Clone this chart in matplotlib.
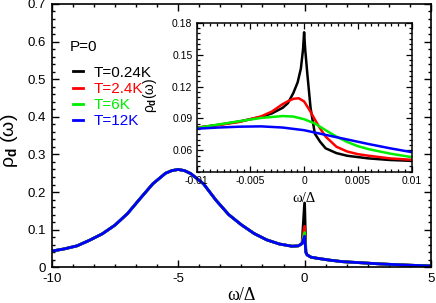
import matplotlib
matplotlib.use("Agg")
import matplotlib.pyplot as plt
from matplotlib.ticker import MultipleLocator, FixedLocator, FixedFormatter
from matplotlib.lines import Line2D

# ---- data ----
temps = ["T=0.24K", "T=2.4K", "T=6K", "T=12K"]
colors = ["#000000", "#ff0000", "#00ee00", "#0000ff"]

# main panel: common curve, the four temperatures only differ in the spike at w=0
main_w = [-10, -9.5, -9, -8.5, -8, -7.5, -7, -6.5, -6, -5.5, -5.25, -5, -4.75,
          -4.5, -4, -3.5, -3, -2.5, -2, -1.5, -1, -0.5, -0.25, -0.1, 0,
          0.05, 0.1, 0.25, 0.5, 1, 1.5, 2, 3, 4, 5]
main_rho = [0.043, 0.049, 0.057, 0.072, 0.089, 0.112, 0.143, 0.183, 0.222, 0.250,
            0.257, 0.260, 0.257, 0.249, 0.222, 0.178, 0.140, 0.113, 0.090, 0.073,
            0.062, 0.056, 0.057, 0.063, 0.083,
            0.040, 0.033, 0.027, 0.024, 0.019, 0.015, 0.013, 0.009, 0.006, 0.0035]
spike_peak = [0.171, 0.109, 0.0923, 0.0826]

# inset, one series per temperature
in_w_k = [-0.01, -0.008, -0.006, -0.004, -0.003, -0.002, -0.0015, -0.001, -0.0006,
          -0.0003, -0.0001, 0, 0.0001, 0.0003, 0.0006, 0.001, 0.0015, 0.002, 0.003,
          0.004, 0.006, 0.008, 0.01]
in_rho_k = [0.0813, 0.0840, 0.0872, 0.0915, 0.0948, 0.1000, 0.1045, 0.1140, 0.1240,
            0.1370, 0.1550, 0.1710, 0.1550, 0.1320, 0.1000, 0.0757, 0.0680, 0.0620,
            0.0575, 0.0550, 0.0525, 0.0510, 0.0502]
in_w_r = [-0.01, -0.008, -0.006, -0.004, -0.003, -0.002, -0.0015, -0.001, -0.0005, 0,
          0.0005, 0.001, 0.0015, 0.002, 0.003, 0.004, 0.005, 0.006, 0.008, 0.01]
in_rho_r = [0.0813, 0.0838, 0.0868, 0.0920, 0.0965, 0.1035, 0.1062, 0.1085, 0.1090,
            0.1060, 0.0980, 0.0890, 0.0805, 0.0730, 0.0635, 0.0590, 0.0565, 0.0550,
            0.0525, 0.0512]
in_w_g = [-0.01, -0.008, -0.006, -0.004, -0.002, -0.001, 0, 0.001, 0.002, 0.003,
          0.004, 0.005, 0.006, 0.008, 0.01]
in_rho_g = [0.0810, 0.0843, 0.0875, 0.0905, 0.0923, 0.0918, 0.0893, 0.0853, 0.0790,
            0.0730, 0.0680, 0.0640, 0.0612, 0.0570, 0.0537]
in_w_b = [-0.01, -0.008, -0.006, -0.004, -0.002, 0, 0.002, 0.004, 0.006, 0.008, 0.01]
in_rho_b = [0.0804, 0.0815, 0.0823, 0.0826, 0.0815, 0.0790, 0.0746, 0.0703, 0.0660,
            0.0620, 0.0584]

main_yticks = [0, 0.1, 0.2, 0.3, 0.4, 0.5, 0.6, 0.7]
main_ylabels = ["0", "0.1", "0.2", "0.3", "0.4", "0.5", "0.6", "0.7"]
main_xticks = [-10, -5, 0, 5]
main_xlabels = ["-10", "-5", "0", "5"]
in_xticks = [-0.01, -0.005, 0, 0.005, 0.01]
in_xlabels = ["-0.01", "-0.005", "0", "0.005", "0.01"]
in_yticks = [0.06, 0.09, 0.12, 0.15, 0.18]
in_ylabels = ["0.06", "0.09", "0.12", "0.15", "0.18"]

plt.rcParams["font.family"] = ["Liberation Sans", "DejaVu Sans"]
plt.rcParams["mathtext.fontset"] = "custom"
plt.rcParams["mathtext.rm"] = "Liberation Sans"
plt.rcParams["mathtext.it"] = "Liberation Sans"
plt.rcParams["mathtext.bf"] = "Liberation Sans:bold"
plt.rcParams["axes.unicode_minus"] = False

fig = plt.figure(figsize=(4.36, 3.03), dpi=100)
ax = fig.add_axes([0.1186, 0.1178, 0.8700, 0.8692])

zero_idx = main_w.index(0)
for lab, col, pk in zip(temps, colors, spike_peak):
    rho = list(main_rho)
    rho[zero_idx] = pk
    ax.plot(main_w, rho, color=col, lw=2.0, label=lab)

ax.set_xlim(-10, 5)
ax.set_ylim(0, 0.7)
ax.xaxis.set_major_locator(FixedLocator(main_xticks))
ax.xaxis.set_major_formatter(FixedFormatter(main_xlabels))
ax.xaxis.set_minor_locator(MultipleLocator(5 / 6))
ax.yaxis.set_major_locator(FixedLocator(main_yticks))
ax.yaxis.set_major_formatter(FixedFormatter(main_ylabels))
ax.yaxis.set_minor_locator(MultipleLocator(0.02))
ax.tick_params(which="both", direction="in", top=True, right=True, width=1.0,
               labelsize=9.5)
ax.tick_params(which="major", length=5)
ax.tick_params(which="minor", length=2.5)
ax.tick_params(axis="x", pad=4)
ax.tick_params(axis="y", pad=4)
for s in ax.spines.values():
    s.set_linewidth(1.2)

ax.set_xlabel("ω/Δ", family="Liberation Serif", fontsize=13)
ax.xaxis.set_label_coords(0.5, -0.074)
ax.set_ylabel(r"$\rho_{\mathbf{d}}\ (\omega)$", fontsize=14)
ax.yaxis.set_label_coords(-0.084, 0.48)

ax.text(0.048, 0.838, "P=0", transform=ax.transAxes, fontsize=11, va="center")
handles = [Line2D([], [], color=c, lw=2.0) for c in colors]
ax.legend(handles, temps, loc="upper left", bbox_to_anchor=(0.055, 0.765),
          frameon=False, fontsize=11, handlelength=0.65, handletextpad=0.75,
          labelspacing=0.14, borderpad=0, borderaxespad=0, labelcolor=colors)

# ---- inset ----
ins = fig.add_axes([0.451, 0.4333, 0.493, 0.4918])
ins.plot(in_w_k, in_rho_k, color=colors[0], lw=1.8)
ins.plot(in_w_r, in_rho_r, color=colors[1], lw=1.8)
ins.plot(in_w_g, in_rho_g, color=colors[2], lw=1.8)
ins.plot(in_w_b, in_rho_b, color=colors[3], lw=1.8)
ins.set_xlim(-0.01, 0.01)
ins.set_ylim(0.04, 0.18)
ins.xaxis.set_major_locator(FixedLocator(in_xticks))
ins.xaxis.set_major_formatter(FixedFormatter(in_xlabels))
ins.xaxis.set_minor_locator(MultipleLocator(0.000625))
ins.yaxis.set_major_locator(FixedLocator(in_yticks))
ins.yaxis.set_major_formatter(FixedFormatter(in_ylabels))
ins.yaxis.set_minor_locator(MultipleLocator(0.005))
ins.tick_params(which="both", direction="in", top=True, right=True, width=0.9,
                labelsize=7.5, pad=3)
ins.tick_params(which="major", length=4.5)
ins.tick_params(which="minor", length=2.5)
for s in ins.spines.values():
    s.set_linewidth(1.1)
ins.set_xlabel("ω/Δ", family="Liberation Serif", fontsize=10.5)
ins.xaxis.set_label_coords(0.5, -0.136)
ins.set_ylabel(r"$\rho_{\mathbf{d}}(\omega)$", fontsize=10)
ins.yaxis.set_label_coords(-0.175, 0.515)

fig.savefig("out.png", dpi=100)
